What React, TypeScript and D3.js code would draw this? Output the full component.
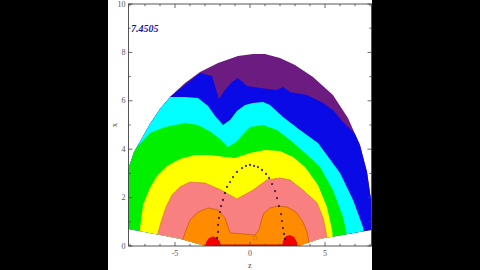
import React from "react";
import * as d3 from "d3";

type P = [number, number];

const W = 480;
const H = 270;
const zDomain: P = [-8.1, 8.1];
const xDomain: P = [0, 10];

// outer boundary of the filled region (z, x)
const outerEdge: P[] = [
  [-9.0, 0.8], [-8.67, 1.9], [-8.07, 3.26], [-7.73, 3.88], [-7.27, 4.38], [-6.67, 5.04],
  [-6.0, 5.66], [-5.27, 6.2], [-4.33, 6.74], [-3.33, 7.19], [-2.13, 7.56], [-0.8, 7.85],
  [0.2, 7.93], [1.0, 7.93], [2.0, 7.77], [3.0, 7.48], [4.2, 6.98], [5.53, 6.24],
  [6.53, 5.29], [7.33, 4.17], [7.8, 3.06], [8.07, 1.9], [8.15, 1.2], [8.4, 0.8],
];
// lower boundary, right to left
const bottomEdge: P[] = [
  [9.0, 0.75], [8.07, 0.66], [4.67, 0.3], [3.0, -0.05], [-2.67, -0.05], [-4.67, 0.3], [-8.07, 0.7], [-9.0, 0.8],
];

const blueTop: P[] = [
  [-10, 6.2], [-5.27, 6.2], [-4.33, 6.65], [-3.33, 7.15], [-2.53, 7.02], [-2.07, 6.07],
  [-1.67, 6.45], [-1.2, 6.78], [-0.8, 6.94], [-0.2, 6.61], [0.67, 6.53], [1.8, 6.45],
  [2.2, 6.57], [2.67, 6.36], [3.8, 6.24], [4.87, 5.91], [5.53, 5.62], [6.2, 5.12],
  [7.07, 4.59], [10, 4.59],
];
const cyanTop: P[] = [
  [-10, 6.16], [-5.27, 6.16], [-4.33, 6.16], [-3.47, 6.12], [-2.8, 5.79], [-2.33, 5.37],
  [-1.8, 5.0], [-1.33, 5.21], [-0.87, 5.58], [-0.33, 5.83], [0.2, 5.91], [0.87, 5.95],
  [1.33, 5.83], [2.2, 5.33], [3.33, 4.79], [4.53, 4.26], [6.0, 3.02], [6.87, 1.9],
  [7.53, 0.79], [7.73, 0.04], [7.73, -0.6],
];
const greenTop: P[] = [
  [-10, 4.17], [-7.4, 4.17], [-6.67, 4.67], [-5.67, 4.92], [-4.33, 5.08], [-3.47, 5.0],
  [-2.6, 4.71], [-1.93, 4.38], [-1.47, 4.09], [-0.93, 4.3], [-0.33, 4.71], [0, 4.92],
  [0.87, 5.0], [1.8, 4.79], [2.67, 4.38], [3.67, 3.84], [4.67, 3.26], [5.53, 2.31],
  [6.2, 1.2], [6.47, 0.45], [6.53, -0.58],
];
const yellowTop: P[] = [
  [-7.4, -0.17], [-7.33, 0.74], [-7.13, 1.69], [-6.67, 2.4], [-6.2, 2.89], [-5.53, 3.31],
  [-4.67, 3.6], [-3.67, 3.76], [-2.67, 3.76], [-1.67, 3.68], [-1.0, 3.64], [0, 3.84],
  [1.0, 3.97], [2.0, 3.93], [2.87, 3.68], [3.67, 3.26], [4.53, 2.52], [5.13, 1.61],
  [5.47, 0.66], [5.6, -0.17],
];
const pinkTop: P[] = [
  [-6.27, -0.17], [-6.13, 0.54], [-5.93, 0.99], [-5.6, 1.61], [-5.2, 2.11], [-4.67, 2.44],
  [-4.0, 2.64], [-3.0, 2.6], [-1.93, 2.31], [-0.87, 1.94], [0.2, 2.31], [1.13, 2.73],
  [2.0, 2.81], [2.67, 2.73], [3.53, 2.31], [4.47, 1.78], [4.87, 1.16], [5.07, 0.58],
  [5.2, -0.17],
];
const orangeTop: P[] = [
  [-4.67, -0.17], [-4.53, 0.17], [-4.33, 0.54], [-4.0, 1.07], [-3.47, 1.4], [-2.8, 1.57],
  [-2.13, 1.49], [-1.67, 1.16], [-1.47, 0.79], [-1.33, 0.54], [-0.53, 0.5], [0.33, 0.45],
  [0.6, 0.66], [0.73, 0.99], [0.93, 1.36], [1.33, 1.57], [1.87, 1.65], [2.47, 1.61],
  [3.07, 1.4], [3.53, 0.99], [3.8, 0.58], [4.0, -0.17],
];
const redLeft: P[] = [
  [-3.0, -0.17], [-2.93, 0.17], [-2.73, 0.33], [-2.47, 0.39], [-2.2, 0.33], [-2.0, 0.17], [-1.93, -0.17],
];
const redRight: P[] = [
  [2.07, -0.17], [2.2, 0.21], [2.4, 0.41], [2.67, 0.45], [2.93, 0.37], [3.13, 0.17], [3.2, -0.17],
];
const redBase: P[] = [[-2.47, 0.03], [2.67, 0.03]];
const smallRing: P = [0.33, 0.33];

const archDots: P[] = [
  [-2.2, 0.33], [-2.13, 0.58], [-2.13, 0.87], [-2.07, 1.16], [-2.0, 1.4], [-1.93, 1.65],
  [-1.8, 1.9], [-1.67, 2.19], [-1.53, 2.44], [-1.33, 2.64], [-1.13, 2.85], [-0.87, 3.06],
  [-0.53, 3.22], [-0.27, 3.31], [0, 3.35], [0.27, 3.31], [0.53, 3.26], [0.8, 3.14],
  [1.07, 2.98], [1.27, 2.81], [1.47, 2.56], [1.67, 2.27], [1.8, 1.98], [1.93, 1.65],
  [2.07, 1.32], [2.13, 1.03], [2.2, 0.74], [2.27, 0.5], [2.33, 0.29],
];

const bandColors = ["#0A0AE6", "#00FFFF", "#00F000", "#FFFF00", "#F98080", "#FF8C00", "#F00000", "#F00000"];
const outerColor = "#6C1C80";
const contourLabel = "7.4505";
const zTicks = d3.range(-8, 9);
const zMajor = [-5, 0, 5];
const xTicks = d3.range(0, 11);
const xMajor = [0, 2, 4, 6, 8, 10];

export default function App() {
  const sx = d3.scaleLinear().domain(zDomain).range([128.5, 371.5]);
  const sy = d3.scaleLinear().domain(xDomain).range([246, 4]);
  const line = d3.line<P>().x((d) => sx(d[0])).y((d) => sy(d[1]));
  const region = (pts: P[]) =>
    (line([...pts, [pts[pts.length - 1][0], -1], [pts[0][0], -1]]) || "") + "Z";
  const dome = (line([...outerEdge, ...bottomEdge]) || "") + "Z";
  const bands = [blueTop, cyanTop, greenTop, yellowTop, pinkTop, orangeTop, redLeft, redRight];

  const [x0, x1] = sx.range();
  const [y0, y1] = sy.range();
  const font = "'Liberation Serif', 'DejaVu Serif', serif";

  return (
    <svg width={W} height={H} style={{ position: "absolute", left: 0, top: 0 }}>
      <rect x={0} y={0} width={W} height={H} fill="#000" />
      <rect x={108} y={0} width={264} height={H} fill="#fff" />
      <defs>
        <clipPath id="plotClip">
          <rect x={x0} y={y1} width={x1 - x0} height={y0 - y1} />
        </clipPath>
        <clipPath id="domeClip">
          <path d={dome} />
        </clipPath>
      </defs>
      <g clipPath="url(#plotClip)">
        <g clipPath="url(#domeClip)">
          <rect x={0} y={0} width={W} height={H} fill={outerColor} />
          {bands.map((b, i) => (
            <path key={i} d={region(b)} fill={bandColors[i]} />
          ))}
          <path d={line(pinkTop) || ""} fill="none" stroke="#E07040" strokeWidth={0.7} />
          <path d={line(orangeTop) || ""} fill="none" stroke="#C86000" strokeWidth={0.8} />
        </g>
        <path d={line(redBase) || ""} stroke="#D00000" strokeWidth={1.6} />
        <circle cx={sx(smallRing[0])} cy={sy(smallRing[1])} r={2} fill="none" stroke="#C87020" strokeWidth={0.7} />
        {archDots.map((d, i) => (
          <circle key={i} cx={sx(d[0])} cy={sy(d[1])} r={1.15} fill="#2a0a30" opacity={0.85} />
        ))}
      </g>
      <text x={131} y={31.5} fill="#1a1aa8" fontFamily={font} fontSize={10} fontWeight="bold" fontStyle="italic">
        {contourLabel}
      </text>
      <rect x={x0} y={y1} width={x1 - x0} height={y0 - y1} fill="none" stroke="#444" strokeWidth={0.9} />
      {zTicks.map((t) => {
        const len = zMajor.includes(t) ? 4 : 2.2;
        return (
          <g key={"z" + t} stroke="#444" strokeWidth={0.8}>
            <line x1={sx(t)} x2={sx(t)} y1={y0} y2={y0 - len} />
            <line x1={sx(t)} x2={sx(t)} y1={y1} y2={y1 + len} />
          </g>
        );
      })}
      {xTicks.map((t) => {
        const len = xMajor.includes(t) ? 4 : 2.2;
        return (
          <g key={"x" + t} stroke="#444" strokeWidth={0.8}>
            <line x1={x0} x2={x0 + len} y1={sy(t)} y2={sy(t)} />
            <line x1={x1} x2={x1 - len} y1={sy(t)} y2={sy(t)} />
          </g>
        );
      })}
      {xMajor.map((t) => (
        <text key={"xl" + t} x={x0 - 3} y={sy(t)} dy="0.33em" textAnchor="end" fontFamily={font} fontSize={8} fill="#555">
          {t}
        </text>
      ))}
      {zMajor.map((t) => (
        <text key={"zl" + t} x={sx(t)} y={256} textAnchor="middle" fontFamily={font} fontSize={8} fill="#555">
          {t < 0 ? "-" + Math.abs(t) : t}
        </text>
      ))}
      <text x={sx(0)} y={268} textAnchor="middle" fontFamily={font} fontSize={8.5} fill="#555">z</text>
      <text x={114} y={125} textAnchor="middle" fontFamily={font} fontSize={8.5} fill="#555" transform="rotate(-90 114 125)" dy="0.3em">x</text>
    </svg>
  );
}
